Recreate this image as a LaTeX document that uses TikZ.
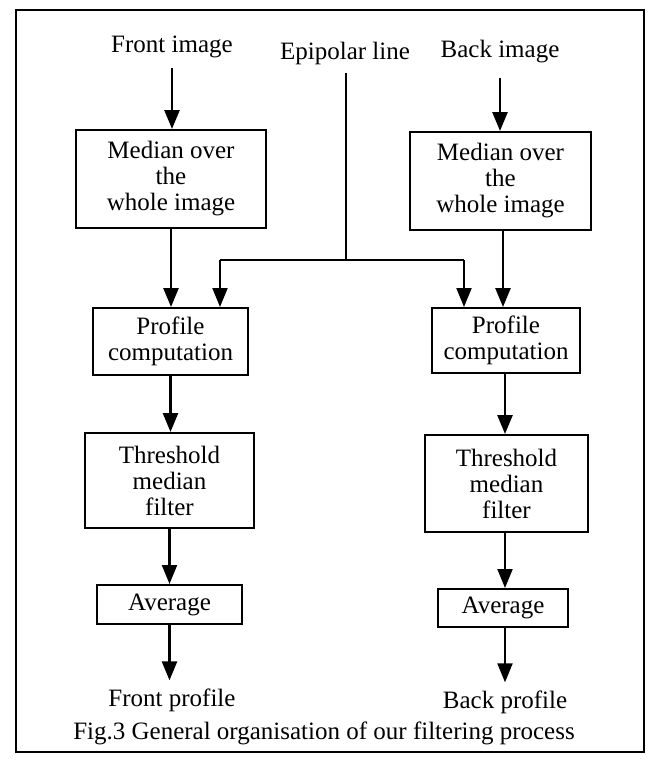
\documentclass[tikz,border=0pt]{standalone}
\usepackage{fontspec}
\setmainfont{Liberation Serif}
\usetikzlibrary{arrows.meta}
\begin{document}
\begin{tikzpicture}[x=1pt,y=-1pt,
  every node/.style={font=\fontsize{25}{26}\selectfont},
  box/.style={draw,line width=2pt,align=center,inner sep=0pt},
  lbl/.style={inner sep=0pt},
  arr/.style={line width=2.6pt,-{Triangle[width=15pt,length=19pt]}},
  arrthin/.style={line width=2.1pt,-{Triangle[width=15pt,length=19pt]}},
  epiline/.style={line width=1.6pt}]
\useasboundingbox (0,0) rectangle (650,760);
\draw[line width=1.6pt] (16,10) rectangle (644,752);

\node[lbl] (fi) at (172,47) {Front image};
\node[lbl] (epi) at (345,53) {Epipolar line};
\node[lbl] (bi) at (500,52) {Back image};

\node[box,minimum width=190pt,minimum height=98pt] (med1) at (171,179) {Median over\\the\\whole image};
\node[box,minimum width=181pt,minimum height=98pt] (med2) at (500.5,181) {Median over\\the\\whole image};

\node[box,minimum width=155pt,minimum height=67pt] (prof1) at (170.5,341.5) {Profile\\computation};
\node[box,minimum width=148pt,minimum height=65pt] (prof2) at (506,340.5) {Profile\\computation};

\node[box,minimum width=169pt,minimum height=95pt] (thr1) at (169.5,480.5) {Threshold\\median\\filter};
\node[box,minimum width=163pt,minimum height=97pt] (thr2) at (506.5,483.5) {Threshold\\median\\filter};

\node[box,minimum width=145pt,minimum height=39pt] (avg1) at (169.5,604.5) {Average};
\node[box,minimum width=130pt,minimum height=38pt] (avg2) at (503,608) {Average};

\node[lbl] (fp) at (172,700) {Front profile};
\node[lbl] (bp) at (505,702) {Back profile};
\node[lbl] (cap) at (324,733) {Fig.3 General organisation of our filtering process};

% main arrows
\draw[arr] ([yshift=-10pt]fi.south) -- (fi.south |- med1.north);
\draw[arr] ([yshift=-14pt]bi.south) -- (bi.south |- med2.north);
\draw[arr] (med1.south) -- (med1.south |- prof1.north);
\draw[arr] ([xshift=2.5pt]med2.south) -- ([xshift=2.5pt]med2.south |- prof2.north);
\draw[arr] (prof1.south) -- (prof1.south |- thr1.north);
\draw[arr] ([xshift=-1pt]prof2.south) -- ([xshift=-1pt]prof2.south |- thr2.north);
\draw[arrthin] (thr1.south) -- (thr1.south |- avg1.north);
\draw[arrthin] ([xshift=-1.5pt]thr2.south) -- ([xshift=-1.5pt]thr2.south |- avg2.north);
\draw[arr,shorten >=8pt] (avg1.south) -- (avg1.south |- fp.north);
\draw[arrthin,shorten >=8pt] ([xshift=2pt]avg2.south) -- ([xshift=2pt]avg2.south |- bp.north);

% epipolar line
\coordinate (j) at (346,260);
\coordinate (jl) at (220,260);
\coordinate (jr) at (464,260);
\draw[epiline] ([xshift=1pt,yshift=-8pt]epi.south) -- (j);
\draw[epiline] (jl) -- (jr);
\draw[arrthin] (jl) -- (jl |- prof1.north);
\draw[arrthin] (jr) -- (jr |- prof2.north);
\end{tikzpicture}
\end{document}
